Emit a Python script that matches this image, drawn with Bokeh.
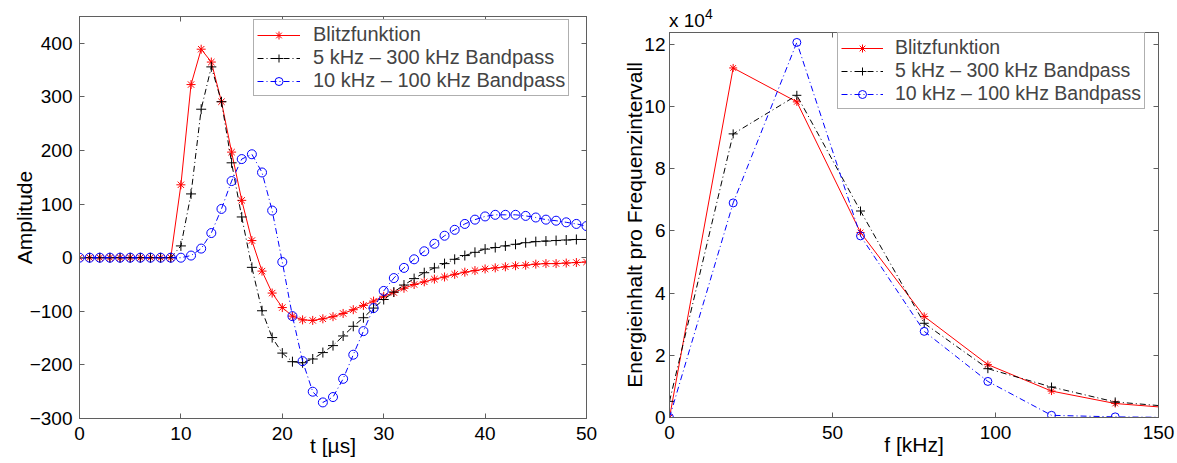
from bokeh.plotting import figure
from bokeh.layouts import row, column
from bokeh.models import LinearAxis, FixedTicker, Legend, LegendItem, Range1d, Spacer, Div
from bokeh.embed import file_html
from bokeh.resources import INLINE

# ---------------- data: left panel (time domain) ----------------
t_us = list(range(51))
blitz = [0, 0, 0, 0, 0, 0, 0, 0, 0, 0,
         136, 323, 389, 365, 291, 197, 107, 32, -25, -66,
         -93, -109, -116, -117, -114, -110, -104, -97, -89, -81,
         -72, -65, -57, -50, -45, -40, -36, -31, -27, -24,
         -21, -19, -17, -15, -14, -12, -11, -11, -10, -9, -8]
bp_5_300 = [0, 0, 0, 0, 0, 0, 0, 0, 0, 0,
            22, 119, 277, 356, 291, 177, 76, -18, -99, -149,
            -178, -194, -196, -189, -177, -164, -146, -128, -112, -94,
            -78, -64, -51, -39, -28, -19, -11, -3, 4, 10,
            16, 19, 22, 25, 28, 30, 31, 32, 33, 34, 34]
bp_10_100 = [0, 0, 0, 0, 0, 0, 0, 0, 0, 0,
             0, 4, 17, 46, 91, 143, 184, 193, 159, 88,
             -8, -109, -193, -250, -270, -260, -226, -181, -137, -94,
             -62, -38, -19, -3, 12, 26, 41, 52, 63, 71,
             77, 80, 80, 80, 78, 75, 71, 69, 66, 63, 59]

# ---------------- data: right panel (spectrum) ----------------
f_khz = [0, 19.53, 39.06, 58.59, 78.13, 97.66, 117.19, 136.72, 156.25]
e_blitz = [0, 112400, 101500, 59500, 32500, 17000, 8500, 4500, 2900]
e_5_300 = [5200, 91200, 103600, 66400, 30300, 15700, 9800, 5000, 3300]
e_10_100 = [0, 69000, 120600, 58400, 27700, 11600, 700, 200, 0]

series_names = ["Blitzfunktion", "5 kHz \u2013 300 kHz Bandpass", "10 kHz \u2013 100 kHz Bandpass"]

left_xticks = [0, 10, 20, 30, 40, 50]
left_yticks = [-300, -200, -100, 0, 100, 200, 300, 400]
right_xticks = [0, 50, 100, 150]
right_yticks = [0, 20000, 40000, 60000, 80000, 100000, 120000]

FONT = "Liberation Sans"
AX = "#5f5f5f"


def add_frame_ticks(p, xticks, yticks):
    for loc, ticks in (("above", xticks), ("right", yticks)):
        ax = LinearAxis(ticker=FixedTicker(ticks=ticks))
        ax.major_label_text_font_size = "1px"
        ax.major_label_text_color = None
        ax.major_label_standoff = 0
        ax.major_tick_in = 5
        ax.major_tick_out = 0
        ax.minor_tick_line_color = None
        ax.axis_line_color = AX
        ax.major_tick_line_color = AX
        p.add_layout(ax, loc)


def style_main(p, xticks, yticks, xlabel, ylabel, ystd, ystand):
    p.xaxis.ticker = FixedTicker(ticks=xticks)
    p.yaxis.ticker = FixedTicker(ticks=yticks)
    for ax in (p.xaxis[0], p.yaxis[0]):
        ax.major_tick_in = 5
        ax.major_tick_out = 0
        ax.minor_tick_line_color = None
        ax.axis_line_color = AX
        ax.major_tick_line_color = AX
        ax.major_label_text_font = FONT
        ax.major_label_text_font_size = "19px"
        ax.major_label_text_color = "black"
        ax.axis_label_text_font = FONT
        ax.axis_label_text_font_size = "21px"
        ax.axis_label_text_font_style = "normal"
        ax.axis_label_text_color = "black"
    p.xaxis[0].major_label_standoff = 8
    p.xaxis[0].axis_label_standoff = -9
    p.yaxis[0].major_label_standoff = ystd
    p.yaxis[0].axis_label_standoff = ystand
    p.xaxis.axis_label = xlabel
    p.yaxis.axis_label = ylabel
    p.xgrid.visible = False
    p.ygrid.visible = False
    p.outline_line_color = AX
    add_frame_ticks(p, xticks, yticks)


def make_legend(p, items, loc, fsize, lh, gw, st):
    leg = Legend(items=items, location=loc)
    leg.margin = 0
    leg.padding = 3
    leg.spacing = 0
    leg.glyph_width = gw
    leg.glyph_height = 20
    leg.label_height = lh
    leg.label_standoff = st
    leg.label_text_font = FONT
    leg.label_text_font_size = fsize
    leg.border_line_color = AX
    leg.border_line_width = 1
    leg.background_fill_alpha = 1
    p.add_layout(leg, "center")


# ---------------- left figure ----------------
p1 = figure(width=620, height=451, output_backend="svg", toolbar_location=None,
            x_range=Range1d(0, 50), y_range=Range1d(-300, 450),
            min_border_left=79, min_border_right=34, min_border_top=4, min_border_bottom=45)
style_main(p1, left_xticks, left_yticks, "t [\u00b5s]", "Amplitude", 7, -9)
p1.yaxis.major_label_overrides = {v: ("\u2212" + str(-v) if v < 0 else str(v)) for v in left_yticks}

l1 = p1.line(t_us, blitz, line_color="red", line_width=1)
s1 = p1.scatter(t_us, blitz, marker="asterisk", size=9, line_color="red", line_width=1)
l2 = p1.line(t_us, bp_5_300, line_color="black", line_width=1, line_dash="6 3 1 3")
s2 = p1.scatter(t_us, bp_5_300, marker="cross", size=10, line_color="black", line_width=1)
l3 = p1.line(t_us, bp_10_100, line_color="blue", line_width=1, line_dash="6 3 1 3")
s3 = p1.scatter(t_us, bp_10_100, marker="circle", size=9, line_color="blue", fill_color=None, line_width=1)
make_legend(p1, [LegendItem(label=series_names[0], renderers=[l1, s1]),
                 LegendItem(label=series_names[1], renderers=[l2, s2]),
                 LegendItem(label=series_names[2], renderers=[l3, s3])],
            (174, 322), "20px", 23, 43, 13)

# ---------------- right figure ----------------
p2 = figure(width=557, height=435, output_backend="svg", toolbar_location=None,
            x_range=Range1d(0, 150), y_range=Range1d(0, 123800),
            min_border_left=49, min_border_right=19, min_border_top=4, min_border_bottom=46)
style_main(p2, right_xticks, right_yticks, "f [kHz]", "Energieinhalt pro Frequenzintervall", 4, -5)
p2.yaxis.major_label_overrides = {v: str(v // 10000) for v in right_yticks}

m1 = p2.line(f_khz, e_blitz, line_color="red", line_width=1)
n1 = p2.scatter(f_khz, e_blitz, marker="asterisk", size=8, line_color="red", line_width=1)
m2 = p2.line(f_khz, e_5_300, line_color="black", line_width=1, line_dash="6 3 1 3")
n2 = p2.scatter(f_khz, e_5_300, marker="cross", size=9, line_color="black", line_width=1)
m3 = p2.line(f_khz, e_10_100, line_color="blue", line_width=1, line_dash="6 3 1 3")
n3 = p2.scatter(f_khz, e_10_100, marker="circle", size=8, line_color="blue", fill_color=None, line_width=1)
make_legend(p2, [LegendItem(label=series_names[0], renderers=[m1, n1]),
                 LegendItem(label=series_names[1], renderers=[m2, n2]),
                 LegendItem(label=series_names[2], renderers=[m3, n3])],
            (168, 308), "19.5px", 22, 42, 12)

exponent = Div(text=("<div style='height:28px; box-sizing:border-box; padding-top:14px; padding-left:49px; "
                     "line-height:14px; font-size:19px; font-family:\"Liberation Sans\"; color:black; "
                     "overflow:visible; margin:0'>x 10<span style='font-size:14px; position:relative; "
                     "top:-8px'>4</span></div>"),
               width=557, height=28, margin=0)

layout = row(column(Spacer(width=620, height=12), p1), column(exponent, p2))
open("out.html", "w").write(file_html(layout, INLINE))
